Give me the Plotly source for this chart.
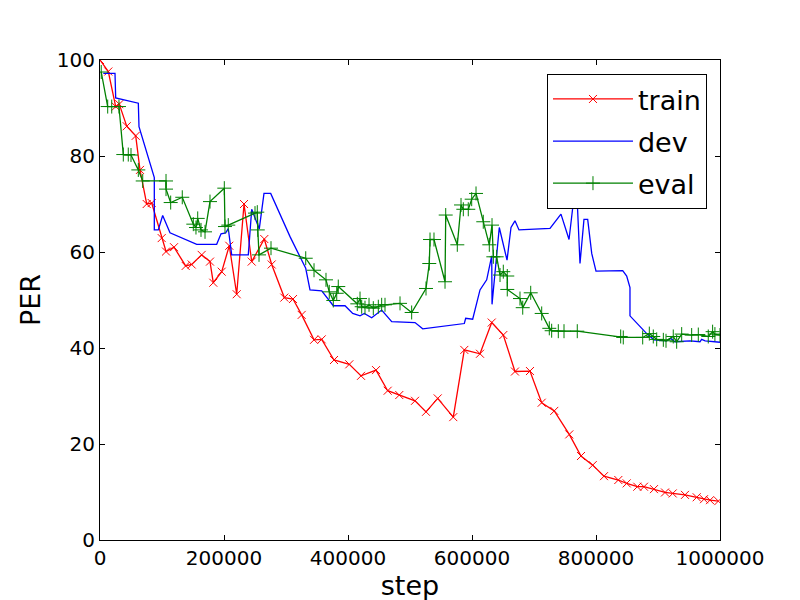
import plotly.graph_objects as go

# ---------------- data ----------------
train_step = [0, 13400, 25300, 31100, 43100, 57600, 64500, 75300, 83400, 99500,
              106500, 119400, 138200, 147900, 164000, 177400, 182700, 196300, 208500, 220500,
              232300, 244700, 265000, 276900, 297300, 311300, 325300, 345200, 357600, 377400,
              402100, 421000, 445200, 464000, 482700, 508100, 525800, 544700, 569800, 587600,
              612900, 631800, 650500, 669300, 693500, 712400, 732700, 756900, 775800, 794700,
              812900, 836000, 849500, 866600, 877400, 893500, 911300, 923700, 943500, 962400,
              974200, 983900, 997300]
train_per = [100.0, 97.6, 90.3, 90.8, 86.2, 84.2, 77.1, 70.0, 70.2, 62.9,
             60.1, 61.0, 57.1, 57.4, 59.4, 58.0, 53.6, 55.9, 61.3, 51.2,
             70.0, 58.0, 62.7, 57.4, 50.5, 50.2, 46.9, 41.7, 41.8, 37.5,
             36.6, 34.2, 35.4, 31.1, 30.2, 29.0, 26.7, 29.5, 25.6, 39.6,
             38.8, 45.3, 42.7, 35.1, 35.2, 28.6, 26.9, 22.0, 17.5, 15.6,
             13.3, 12.5, 11.8, 11.1, 11.1, 10.6, 9.9, 9.7, 9.4, 8.9,
             8.5, 8.3, 8.1]

dev_step = [5300, 24200, 25300, 61800, 62900, 87600, 87600, 94000, 101100, 112900,
            156000, 188200, 195200, 202700, 206900, 212400, 239200, 244700, 256900, 264500,
            275300, 306500, 331800, 338700, 357600, 376300, 395200, 407600, 419400, 426300,
            438200, 454300, 470500, 508100, 520500, 587600, 589800, 601100, 612900, 623700,
            631800, 632300, 644000, 656500, 662900, 669300, 675800, 725800, 743500, 756500,
            764500, 769400, 774200, 780600, 786600, 793100, 800000, 843100, 849500, 854800,
            854800, 881800, 893500, 914000, 920500, 927400, 951600, 967700, 970400, 976000,
            1000000]
dev_per = [97.2, 97.2, 92.1, 91.0, 86.1, 75.5, 64.6, 64.6, 67.6, 64.0,
           61.6, 61.6, 63.8, 64.0, 64.9, 59.4, 59.4, 68.9, 64.8, 72.2,
           72.2, 63.2, 56.6, 52.1, 51.9, 48.8, 48.8, 47.2, 46.7, 47.2,
           46.3, 47.9, 45.5, 45.3, 44.0, 45.1, 46.2, 46.0, 52.1, 54.2,
           59.2, 49.1, 65.1, 58.3, 65.1, 66.5, 64.6, 64.9, 67.9, 62.6,
           71.5, 71.5, 57.6, 66.8, 66.8, 59.7, 56.0, 56.1, 55.0, 52.6,
           46.7, 43.0, 41.7, 41.5, 42.0, 41.3, 41.5, 41.3, 41.8, 41.5,
           41.2]

eval_step = [2000, 12400, 18900, 30600, 37600, 45600, 50000, 61800, 68900, 106500,
             106500, 114000, 132700, 150500, 154800, 157600, 162900, 169400, 177400, 200500,
             201600, 206900, 250000, 253700, 254500, 256500, 275800, 331800, 345200, 364500,
             369800, 376300, 381800, 384300, 415000, 419400, 422100, 427400, 433900, 440800,
             448900, 454300, 459700, 483900, 502700, 525800, 531100, 532300, 538700, 556500,
             557600, 576300, 582300, 586000, 594000, 599500, 606500, 618200, 627900, 632300,
             634400, 639800, 645200, 650500, 656900, 656900, 677400, 681800, 694700, 712400,
             724700, 728500, 739200, 748400, 769800, 839800, 844000, 875300, 886000, 892400,
             897900, 908600, 912900, 924600, 930100, 938200, 954300, 965000, 981100, 988100,
             991800, 1000000]
eval_per = [97.5, 90.3, 90.3, 90.3, 80.3, 80.3, 80.2, 77.1, 74.8, 74.8,
            73.1, 70.3, 71.4, 65.8, 65.1, 67.0, 64.6, 64.2, 70.5, 73.3,
            65.3, 65.6, 68.1, 68.3, 64.6, 59.4, 60.8, 58.7, 56.2, 54.2,
            51.7, 49.9, 51.4, 52.8, 49.2, 50.3, 48.6, 48.4, 49.0, 48.3,
            48.6, 49.0, 49.0, 49.3, 47.4, 52.4, 57.6, 62.6, 62.6, 53.8,
            67.7, 61.5, 69.8, 68.9, 68.9, 71.0, 72.2, 66.3, 61.5, 65.6,
            59.0, 59.0, 55.2, 55.9, 55.0, 52.2, 50.3, 48.4, 51.5, 47.2,
            44.1, 43.6, 43.5, 43.5, 43.5, 42.4, 42.2, 42.2, 43.0, 42.4,
            41.8, 41.7, 41.5, 42.4, 41.3, 42.9, 42.7, 42.8, 42.4, 43.4,
            42.9, 42.7]

x_ticks = [0, 200000, 400000, 600000, 800000, 1000000]
y_ticks = [0, 20, 40, 60, 80, 100]

# ---------------- figure ----------------
FONT = "DejaVu Sans"
fig = go.Figure()
fig.add_trace(go.Scatter(
    x=train_step, y=train_per, name="train", mode="lines+markers", legendgroup="a",
    line=dict(color="#ff0000", width=1.3),
    marker=dict(symbol="x-thin-open", size=8, color="#ff0000",
                line=dict(color="#ff0000", width=1)),
))
fig.add_trace(go.Scatter(
    x=dev_step, y=dev_per, name="dev", mode="lines", legendgroup="b",
    line=dict(color="#0000ff", width=1.3),
))
fig.add_trace(go.Scatter(
    x=eval_step, y=eval_per, name="eval", mode="lines+markers", legendgroup="c",
    line=dict(color="#008000", width=1.3),
    marker=dict(symbol="cross-thin-open", size=10, color="#008000",
                line=dict(color="#008000", width=1)),
))

axis_common = dict(
    showgrid=False, zeroline=False, showline=True, linecolor="black", linewidth=1,
    mirror="ticks", ticks="inside", ticklen=5, tickcolor="black", tickwidth=1,
    tickfont=dict(family=FONT, size=20, color="black"), automargin=False,
)
fig.update_xaxes(range=[0, 1000000], tickvals=x_ticks,
                 ticktext=[str(v) for v in x_ticks],
                 title=dict(text="step", font=dict(family=FONT, size=27, color="black"), standoff=6),
                 **axis_common)
fig.update_yaxes(range=[0, 100], tickvals=y_ticks,
                 ticktext=[str(v) for v in y_ticks],
                 title=dict(text="PER", font=dict(family=FONT, size=27, color="black"), standoff=8),
                 **axis_common)

fig.update_layout(
    width=800, height=600,
    margin=dict(l=92, r=88, t=52, b=68, autoexpand=False),
    paper_bgcolor="white", plot_bgcolor="white",
    font=dict(family=FONT, color="black"),
    showlegend=True,
    legend=dict(x=0.979, y=0.971, xanchor="right", yanchor="top",
                bgcolor="white", bordercolor="black", borderwidth=1,
                font=dict(family=FONT, size=27, color="black"),
                itemwidth=80, tracegroupgap=4),
    hovermode=False,
)

fig.write_html("out.html")
